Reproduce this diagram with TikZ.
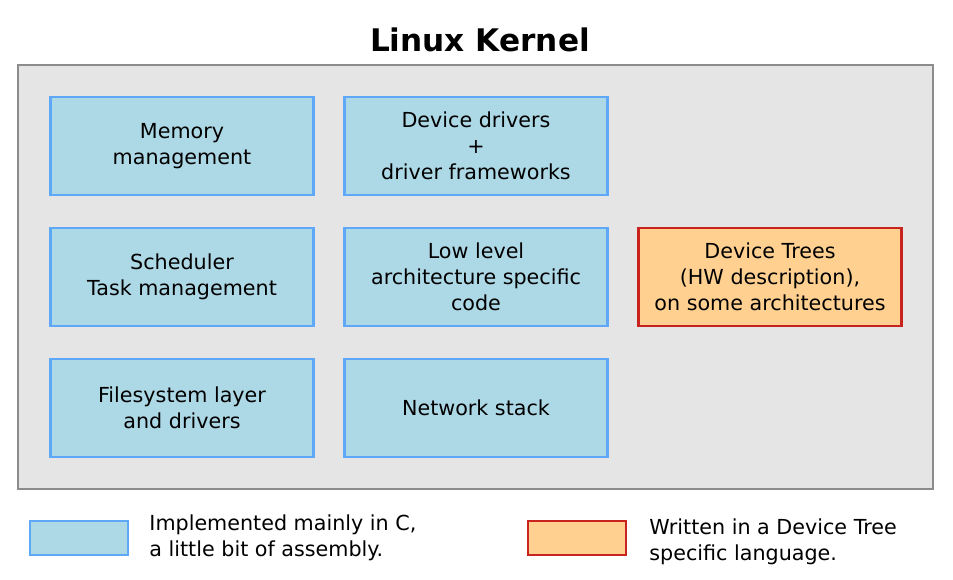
\documentclass[tikz,border=0pt]{standalone}
\usepackage{fontspec}
\setmainfont{DejaVu Sans}
\usetikzlibrary{positioning}
\definecolor{boxblue}{HTML}{ADD8E6}
\definecolor{lineblue}{HTML}{5FA8F8}
\definecolor{boxorange}{HTML}{FFD090}
\definecolor{linered}{HTML}{C8231E}
\definecolor{kernelgray}{HTML}{E5E5E5}
\tikzset{
  part/.style={draw=lineblue, fill=boxblue, line width=2.2pt, minimum width=7.4cm, minimum height=2.77cm, align=center, font=\fontsize{16.6}{21}\selectfont},
  dtpart/.style={part, draw=linered, fill=boxorange},
  key/.style={line width=2.2pt, minimum width=2.77cm, minimum height=0.96cm},
  keytext/.style={align=left, anchor=west, font=\fontsize{16.6}{21}\selectfont}
}
\begin{document}
\begin{tikzpicture}[x=0.02822cm, y=-0.02822cm]
\useasboundingbox (0,0) rectangle (953,579);
\node[draw=gray!90, fill=kernelgray, line width=2.2pt, minimum width=25.82cm, minimum height=11.96cm] (kernel) at (475.5,277) {};
\node[font=\bfseries\fontsize{25}{30}\selectfont] (title) at (480,40) {Linux Kernel};

\node[part] (mem) at (182,146) {Memory\\management};
\node[part] (drv) at (476,146) {Device drivers\\+\\driver frameworks};
\node[part] (sched) at (182,277) {Scheduler\\Task management};
\node[part] (arch) at (476,277) {Low level\\architecture specific\\code};
\node[dtpart] (dt) at (770,277) {Device Trees\\(HW description),\\on some architectures};
\node[part] (fs) at (182,408) {Filesystem layer\\and drivers};
\node[part] (net) at (476,408) {Network stack};

% legend
\node[key, draw=lineblue, fill=boxblue] (keyc) at (79,538) {};
\node[keytext] (keyctext) at (145,538) {Implemented mainly in C,\\a little bit of assembly.};
\node[key, draw=linered, fill=boxorange] (keydt) at (577,538) {};
\node[keytext] (keydttext) at (645,542) {Written in a Device Tree\\specific language.};
\end{tikzpicture}
\end{document}
